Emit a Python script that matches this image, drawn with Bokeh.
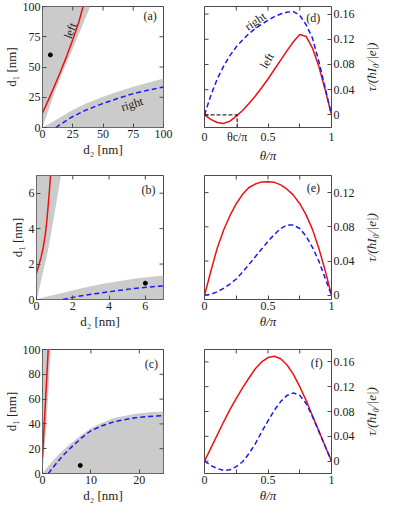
import math
from bokeh.plotting import figure
from bokeh.models import LinearAxis, FixedTicker, Label, Range1d
from bokeh.layouts import column, row
from bokeh.embed import file_html
from bokeh.resources import INLINE

FONT = "Liberation Serif, serif"
RED = "#ee1111"
BLUE = "#1a1aee"
GREY = "#cbcbcb"
FRAME = "#4a4a4a"
TXT = "#222222"

# ---------------- data ----------------
# (a) d1 vs d2 [nm], range 0..100
a_up_bd_x = [0, 5, 10, 15, 20, 25, 30, 35, 39.5]
a_up_bd_y = [0, 14.5, 29, 41.5, 53.5, 65, 77, 89, 100]
a_red_x = [0, 5, 10, 15, 20, 25, 30, 33.5]
a_red_y = [12, 23, 34.5, 46.5, 59, 72.5, 87, 100]
a_lo_bd_x = [0, 10, 23, 35, 49, 62, 75, 88, 100]
a_lo_bd_y = [0, 5.5, 13.4, 19.5, 25, 29.5, 33.6, 37.2, 40.4]
a_blue_x = [11, 23, 35, 49, 62, 75, 88, 100]
a_blue_y = [0, 8, 14, 19.5, 24, 28, 31, 33.5]
a_dot = ([6.5], [60])
a_ticks = [0, 25, 50, 75, 100]

# (b) range 0..7
b_up_bd_x = [0, 0.11, 0.35, 0.6, 0.8, 1.05, 1.35]
b_up_bd_y = [0, 0.4, 1.5, 2.6, 3.7, 5.2, 7]
b_red_x = [0, 0.13, 0.26, 0.38, 0.49, 0.58, 0.66, 0.72, 0.77]
b_red_y = [1.5, 1.95, 2.42, 3.0, 3.7, 4.55, 5.5, 6.25, 7]
b_lo_bd_x = [0, 0.8, 1.71, 2.6, 3.53, 4.45, 5.36, 6.2, 7]
b_lo_bd_y = [0, 0.22, 0.44, 0.66, 0.86, 1.02, 1.17, 1.27, 1.36]
b_blue_x = [1.45, 2.0, 2.6, 3.53, 4.45, 5.36, 6.2, 7]
b_blue_y = [0, 0.12, 0.23, 0.37, 0.5, 0.62, 0.7, 0.77]
b_dot = ([6.0], [0.92])
b_ticks = [0, 2, 4, 6]

# (c) d2 0..25, d1 0..100
c_up_bd_x = [0, 0.3, 0.7, 1.1, 1.4, 1.7]
c_up_bd_y = [0, 15, 35, 58, 78, 100]
c_red_x = [0, 0.3, 0.6, 0.9, 1.18]
c_red_y = [13, 35, 57, 79, 100]
c_lo_bd_x = [0, 1, 2.5, 4, 5.77, 8, 10, 12.3, 15, 18.9, 22, 25]
c_lo_bd_y = [0, 5, 11.8, 18, 24, 31, 36.5, 41, 45, 48, 49.3, 50]
c_blue_x = [1.2, 2.5, 4, 5.77, 8, 10, 12.3, 15, 18.9, 22, 25]
c_blue_y = [0, 6.5, 13.5, 20.5, 28.5, 34.5, 38.5, 42, 44.8, 46, 46.6]
c_dot = ([7.8], [6.5])
c_xticks = [0, 10, 20]
c_yticks = [0, 20, 40, 60, 80, 100]

# torque panels: theta/pi
theta = [0, 0.05, 0.1, 0.15, 0.2, 0.25, 0.3, 0.35, 0.4, 0.45, 0.5,
         0.55, 0.6, 0.65, 0.7, 0.75, 0.8, 0.85, 0.9, 0.95, 1.0]
d_red = [0, -0.007, -0.012, -0.0135, -0.01, -0.002, 0.007, 0.018, 0.03, 0.043, 0.057,
         0.072, 0.087, 0.102, 0.116, 0.1275, 0.1245, 0.106, 0.077, 0.04, 0]
d_blue = [0, 0.031, 0.057, 0.077, 0.094, 0.108, 0.119, 0.129, 0.137, 0.144, 0.15,
          0.156, 0.16, 0.163, 0.164, 0.158, 0.143, 0.122, 0.085, 0.043, 0]
e_red = [0, 0.028, 0.055, 0.076, 0.093, 0.107, 0.118, 0.126, 0.13, 0.1325, 0.1328,
         0.132, 0.129, 0.124, 0.117, 0.107, 0.094, 0.077, 0.055, 0.029, 0]
e_blue = [0, 0.001, 0.004, 0.008, 0.013, 0.019, 0.027, 0.036, 0.045, 0.054, 0.063,
          0.071, 0.078, 0.082, 0.082, 0.078, 0.069, 0.056, 0.04, 0.02, 0]
f_red = [0, 0.021, 0.042, 0.063, 0.083, 0.101, 0.118, 0.134, 0.149, 0.16, 0.167,
         0.169, 0.165, 0.155, 0.14, 0.12, 0.098, 0.073, 0.049, 0.024, 0]
f_blue = [0, -0.007, -0.012, -0.015, -0.014, -0.009, -0.001, 0.012, 0.028, 0.047, 0.065,
          0.082, 0.096, 0.106, 0.11, 0.106, 0.093, 0.072, 0.048, 0.024, 0]
theta_c = 0.257
th_ticks = [0, 0.25, 0.5, 0.75, 1]
th_labels = ["0", "", "0.5", "", "1"]
d_th_ticks = [0, theta_c, 0.5, 0.75, 1]
d_th_labels = ["0", "θc/π", "0.5", "", "1"]
tau_ticks = [0, 0.04, 0.08, 0.12, 0.16]
tau_labels = ["0", "0.04", "0.08", "0.12", "0.16"]
e_tau_ticks = [0, 0.04, 0.08, 0.12]
e_tau_labels = ["0", "0.04", "0.08", "0.12"]
TAU_TITLE = "τ/(ħI₀/|e|)"

TICK_FS = "12px"
LAB_FS = "13px"


def make_fig(w, h, xr, yr, bl, br, bt, bb):
    p = figure(width=w, height=h, x_range=Range1d(*xr), y_range=Range1d(*yr),
               output_backend="svg", toolbar_location=None,
               x_axis_location=None, y_axis_location=None,
               min_border_left=bl, min_border_right=br,
               min_border_top=bt, min_border_bottom=bb)
    for g in p.grid:
        g.visible = False
    p.outline_line_color = FRAME
    p.outline_line_width = 1
    p.background_fill_color = "white"
    p.border_fill_color = "white"
    return p


def add_axis(p, side, ticks, labels, axis_label=None, style="normal"):
    ax = LinearAxis(ticker=FixedTicker(ticks=ticks, minor_ticks=[]))
    ax.axis_line_color = None
    ax.major_tick_in = 4
    ax.major_tick_out = 0
    ax.minor_tick_in = 0
    ax.minor_tick_out = 0
    ax.major_tick_line_color = FRAME
    ax.major_label_overrides = {t: l for t, l in zip(ticks, labels)}
    ax.major_label_text_font = FONT
    ax.major_label_text_font_size = TICK_FS
    ax.major_label_text_color = TXT
    ax.major_label_standoff = 2
    if axis_label is not None:
        ax.axis_label = axis_label
        ax.axis_label_text_font = FONT
        ax.axis_label_text_font_size = LAB_FS
        ax.axis_label_text_font_style = style
        ax.axis_label_text_color = TXT
        ax.axis_label_standoff = 1
    p.add_layout(ax, side)
    return ax


def mirror_ticks(p, xs, ys, vertical):
    # inward tick marks on the opposite frame edges (half of each dash is clipped)
    p.scatter(xs, ys, marker="dash", size=8, angle=(math.pi / 2 if vertical else 0),
              line_color=FRAME, line_width=1)


def label(p, x, y, text, angle=0.0, size="12px", style="normal"):
    p.add_layout(Label(x=x, y=y, text=text, angle=angle, text_font=FONT,
                       text_font_size=size, text_font_style=style,
                       text_color=TXT, text_align="center",
                       text_baseline="middle"))


def map_panel(w, h, xr, yr, bt, bb, xticks, yticks, up_x, up_y, red_x, red_y,
              lo_x, lo_y, blue_x, blue_y, dot, tag, tagpos):
    p = make_fig(w, h, xr, yr, 36, 19, bt, bb)
    p.patch([xr[0]] + up_x + [xr[0]], [yr[0]] + up_y + [yr[1]],
            fill_color=GREY, line_color=None)
    p.patch(lo_x + [xr[1], xr[0]], lo_y + [yr[0], yr[0]],
            fill_color=GREY, line_color=None)
    p.line(red_x, red_y, line_color=RED, line_width=1.5)
    p.line(blue_x, blue_y, line_color=BLUE, line_width=1.5, line_dash="5 3")
    p.scatter(dot[0], dot[1], size=4, color="black")
    add_axis(p, "left", yticks, [str(t) for t in yticks], "d₁ [nm]")
    add_axis(p, "below", xticks, [str(t) for t in xticks], "d₂ [nm]")
    mirror_ticks(p, xticks, [yr[1]] * len(xticks), True)
    mirror_ticks(p, [xr[1]] * len(yticks), yticks, False)
    label(p, tagpos[0], tagpos[1], tag)
    return p


def torque_panel(w, h, yr, bt, bb, xticks, xlabels, yticks, ylabels, red, blue, tag, tagpos):
    p = make_fig(w, h, (0, 1), yr, 22, 32, bt, bb)
    p.line(theta, red, line_color=RED, line_width=1.5)
    p.line(theta, blue, line_color=BLUE, line_width=1.5, line_dash="5 3")
    add_axis(p, "below", xticks, xlabels, "θ/π", style="italic")
    add_axis(p, "right", yticks, ylabels)
    mirror_ticks(p, th_ticks, [yr[1]] * len(th_ticks), True)
    mirror_ticks(p, [0] * len(yticks), yticks, False)
    label(p, tagpos[0], tagpos[1], tag)
    return p


def tau_title(w, h, yr, bt, bb):
    # narrow strip right of a torque panel holding the rotated axis title
    q = figure(width=w, height=h, x_range=Range1d(0, 1), y_range=Range1d(*yr),
               output_backend="svg", toolbar_location=None,
               x_axis_location=None, y_axis_location=None,
               min_border_left=0, min_border_right=0,
               min_border_top=bt, min_border_bottom=bb)
    for g in q.grid:
        g.visible = False
    q.outline_line_color = None
    q.background_fill_color = "white"
    q.border_fill_color = "white"
    label(q, 0.5, (yr[0] + yr[1]) / 2, TAU_TITLE, angle=math.pi / 2,
          size=LAB_FS, style="italic")
    return q


W_L, W_R, W_T = 182, 181, 16
H1, H2, H3 = 171, 172, 163
BT1, BB1 = 6, 44
BT2, BB2 = 4, 44
BT3, BB3 = 6, 33

YR_D = (-0.02, 0.172)
YR_E = (-0.005, 0.14)
YR_F = (-0.02, 0.18)

pa = map_panel(W_L, H1, (0, 100), (0, 100), BT1, BB1, a_ticks, a_ticks,
               a_up_bd_x, a_up_bd_y, a_red_x, a_red_y, a_lo_bd_x, a_lo_bd_y,
               a_blue_x, a_blue_y, a_dot, "(a)", (89, 92))
label(pa, 23, 80, "left", angle=1.2)
label(pa, 74, 19.4, "right", angle=0.3)

pb = map_panel(W_L, H2, (0, 7), (0, 7), BT2, BB2, b_ticks, b_ticks,
               b_up_bd_x, b_up_bd_y, b_red_x, b_red_y, b_lo_bd_x, b_lo_bd_y,
               b_blue_x, b_blue_y, b_dot, "(b)", (6.17, 6.2))

pc = map_panel(W_L, H3, (0, 25), (0, 100), BT3, BB3, c_xticks, c_yticks,
               c_up_bd_x, c_up_bd_y, c_red_x, c_red_y, c_lo_bd_x, c_lo_bd_y,
               c_blue_x, c_blue_y, c_dot, "(c)", (22.5, 88.4))

pd = torque_panel(W_R, H1, YR_D, BT1, BB1, d_th_ticks, d_th_labels,
                  tau_ticks, tau_labels, d_red, d_blue, "(d)", (0.857, 0.1545))
pd.line([0, theta_c, theta_c], [0, 0, YR_D[0]], line_color="black",
        line_width=1, line_dash="4 2")
label(pd, 0.4, 0.1485, "right", angle=0.6)
label(pd, 0.492, 0.086, "left", angle=1.05)

pe = torque_panel(W_R, H2, YR_E, BT2, BB2, th_ticks, th_labels,
                  e_tau_ticks, e_tau_labels, e_red, e_blue, "(e)", (0.857, 0.1257))

pf = torque_panel(W_R, H3, YR_F, BT3, BB3, th_ticks, th_labels,
                  tau_ticks, tau_labels, f_red, f_blue, "(f)", (0.883, 0.159))

td = tau_title(W_T, H1, YR_D, BT1, BB1)
te = tau_title(W_T, H2, YR_E, BT2, BB2)
tf = tau_title(W_T, H3, YR_F, BT3, BB3)

layout = column(row(pa, pd, td, spacing=0), row(pb, pe, te, spacing=0),
                row(pc, pf, tf, spacing=0), spacing=0)

open("out.html", "w").write(file_html(layout, INLINE))
